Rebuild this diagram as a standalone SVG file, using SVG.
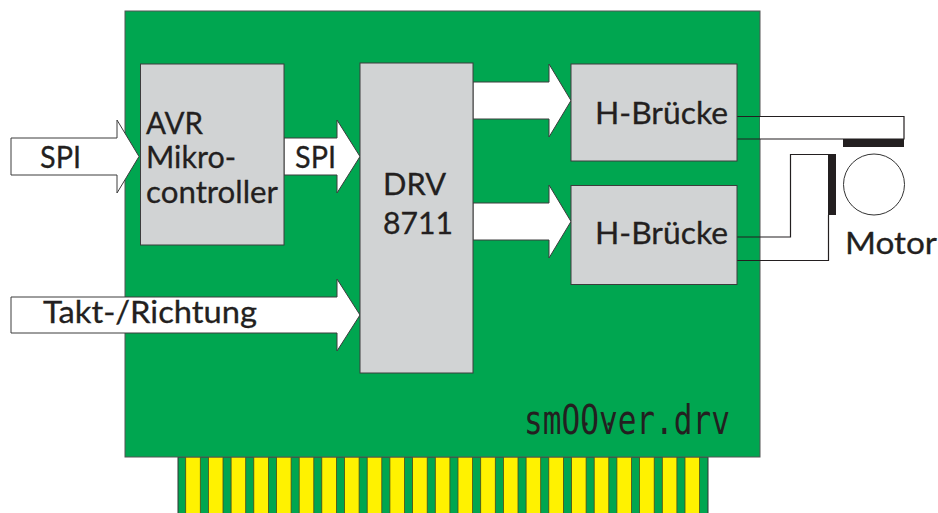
<svg xmlns="http://www.w3.org/2000/svg" width="938" height="513" viewBox="0 0 938 513">
<style>
.box{fill:#d1d3d4;stroke:#3c3c3c;stroke-width:1}
.arrow{fill:#fff;stroke:#3c3c3c;stroke-width:1;stroke-linejoin:miter}
.wire{fill:none;stroke:#231f20;stroke-width:1.2}
.bar{fill:#231f20}
.pin{fill:#fff200;stroke:#4a4a1a;stroke-width:.8}
text{font-family:"Lato","Open Sans","Liberation Sans",sans-serif;font-size:31px;fill:#231f20;stroke:#231f20;stroke-width:.3}
</style>
<rect width="938" height="513" fill="#fff"/>
<g id="connector-edge">
<rect x="178" y="457" width="530" height="57" fill="#00a650" stroke="#333" stroke-width="1"/>
<rect class="pin" x="185.7" y="457" width="14.6" height="57"/><rect class="pin" x="208.4" y="457" width="14.6" height="57"/><rect class="pin" x="231.1" y="457" width="14.6" height="57"/><rect class="pin" x="253.8" y="457" width="14.6" height="57"/><rect class="pin" x="276.5" y="457" width="14.6" height="57"/><rect class="pin" x="299.2" y="457" width="14.6" height="57"/><rect class="pin" x="321.8" y="457" width="14.6" height="57"/><rect class="pin" x="344.5" y="457" width="14.6" height="57"/><rect class="pin" x="367.2" y="457" width="14.6" height="57"/><rect class="pin" x="389.9" y="457" width="14.6" height="57"/><rect class="pin" x="412.6" y="457" width="14.6" height="57"/><rect class="pin" x="435.3" y="457" width="14.6" height="57"/><rect class="pin" x="458" y="457" width="14.6" height="57"/><rect class="pin" x="480.7" y="457" width="14.6" height="57"/><rect class="pin" x="503.4" y="457" width="14.6" height="57"/><rect class="pin" x="526.1" y="457" width="14.6" height="57"/><rect class="pin" x="548.8" y="457" width="14.6" height="57"/><rect class="pin" x="571.5" y="457" width="14.6" height="57"/><rect class="pin" x="594.2" y="457" width="14.6" height="57"/><rect class="pin" x="616.9" y="457" width="14.6" height="57"/><rect class="pin" x="639.6" y="457" width="14.6" height="57"/><rect class="pin" x="662.3" y="457" width="14.6" height="57"/><rect class="pin" x="685" y="457" width="14.6" height="57"/>
</g>
<g id="board"><rect x="125" y="11" width="635" height="446" fill="#00a650" stroke="#555" stroke-width="1"/></g>
<g id="connectors">
<path class="arrow" d="M11 138H117V120L139 156.500L117 193V175H11Z"/>
<path class="arrow" d="M284 138H337V120L360 156.500L337 193V175H284Z"/>
<path class="arrow" d="M11 297H337V279L360 315L337 351V333H11Z"/>
<path class="arrow" d="M473 82H549V64L571 100.500L549 137V119H473Z"/>
<path class="arrow" d="M473 203H549V185L571 221.500L549 258V240H473Z"/>
<rect x="760" y="116.500" width="144" height="22.500" fill="#fff"/>
<path class="wire" d="M737 116.500H904V139H737"/>
<path class="wire" d="M737 237H790.500V154.500H828"/>
<path class="wire" d="M737 260.500H828.500V215"/>
</g>
<g id="avr"><rect class="box" x="140.500" y="64" width="143.500" height="181"/>
<text x="146" y="134" textLength="57" lengthAdjust="spacingAndGlyphs">AVR</text><text x="146" y="168" textLength="90" lengthAdjust="spacingAndGlyphs">Mikro-</text><text x="146" y="203" textLength="132" lengthAdjust="spacingAndGlyphs">controller</text></g>
<g id="drv"><rect class="box" x="360" y="63" width="113" height="310"/>
<text x="383" y="195" textLength="63" lengthAdjust="spacingAndGlyphs">DRV</text><text x="383" y="234" textLength="70" lengthAdjust="spacingAndGlyphs">8711</text></g>
<g id="h1"><rect class="box" x="571" y="64" width="166" height="97"/><text x="595" y="124" textLength="133" lengthAdjust="spacingAndGlyphs">H-Brücke</text></g>
<g id="h2"><rect class="box" x="571" y="185.500" width="166" height="99"/><text x="595" y="244" textLength="133" lengthAdjust="spacingAndGlyphs">H-Brücke</text></g>
<g id="motor">
<rect class="bar" x="843" y="139" width="61" height="8"/>
<rect class="bar" x="828" y="154" width="8" height="61"/>
<circle cx="874" cy="184.500" r="30.500" fill="#fff" stroke="#333" stroke-width="1"/>
<text x="845" y="254" textLength="92" lengthAdjust="spacingAndGlyphs">Motor</text></g>
<g id="labels">
<text x="40" y="168" textLength="41" lengthAdjust="spacingAndGlyphs">SPI</text><text x="295" y="168" textLength="41" lengthAdjust="spacingAndGlyphs">SPI</text><text x="43" y="323" textLength="214" lengthAdjust="spacingAndGlyphs">Takt-/Richtung</text>
</g>
<g id="logo"><text x="524" y="434" textLength="206" lengthAdjust="spacingAndGlyphs" style="font-family:'DejaVu Sans Mono',monospace;font-size:41px;stroke:none">smOOver.drv</text>
<circle cx="586" cy="424" r="1.700" fill="#231f20"/><circle cx="609" cy="424" r="1.700" fill="#231f20"/></g>
</svg>
